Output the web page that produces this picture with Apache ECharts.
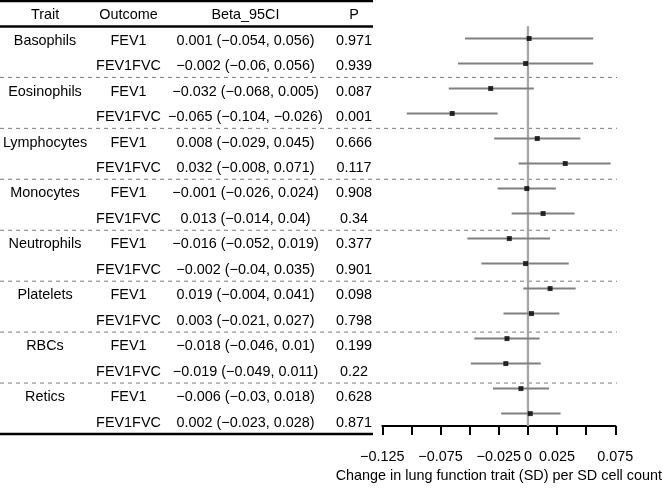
<!DOCTYPE html>
<html><head><meta charset="utf-8">
<script src="https://cdn.jsdelivr.net/npm/echarts@6/dist/echarts.min.js"></script>
<style>html,body{margin:0;padding:0;background:#fff}#c{width:665px;height:488px}</style>
</head><body><div id="c"></div>
<script>
const traits = ['Basophils','Eosinophils','Lymphocytes','Monocytes','Neutrophils','Platelets','RBCs','Retics'];
const outcomes = ['FEV1','FEV1FVC'];
const beta  = [0.001, -0.002, -0.032, -0.065, 0.008, 0.032, -0.001, 0.013, -0.016, -0.002, 0.019, 0.003, -0.018, -0.019, -0.006, 0.002];
const lower = [-0.054, -0.06, -0.068, -0.104, -0.029, -0.008, -0.026, -0.014, -0.052, -0.04, -0.004, -0.021, -0.046, -0.049, -0.03, -0.023];
const upper = [0.056, 0.056, 0.005, -0.026, 0.045, 0.071, 0.024, 0.04, 0.019, 0.035, 0.041, 0.027, 0.01, 0.011, 0.018, 0.028];
const pValues = [0.971, 0.939, 0.087, 0.001, 0.666, 0.117, 0.908, 0.34, 0.377, 0.901, 0.098, 0.798, 0.199, 0.22, 0.628, 0.871];
const headers = ['Trait','Outcome','Beta_95CI','P'];
const tickLabels = ['\u22120.125','','\u22120.075','','\u22120.025','0','0.025','','0.075'];
const xMin = -0.125, xMax = 0.075, xStep = 0.025;
const xTitle = 'Change in lung function trait (SD) per SD cell count';

const FONT = '"Liberation Sans", Arial, Helvetica, sans-serif';
const FS = 14.4;
const fmt = v => String(v).replace('-', '\u2212');
const nRows = beta.length;
const colX = [45, 128.5, 245.5, 354];
const TABLE_W = 373;

const textPos = [], textStr = [];
headers.forEach((h, c) => { textPos.push([colX[c], -0.5]); textStr.push(h); });
for (let i = 0; i < nRows; i++) {
  const g = Math.floor(i / outcomes.length), k = i % outcomes.length;
  if (k === 0) { textPos.push([colX[0], i + 0.5]); textStr.push(traits[g]); }
  textPos.push([colX[1], i + 0.5]); textStr.push(outcomes[k]);
  textPos.push([colX[2], i + 0.5]); textStr.push(`${fmt(beta[i])} (${fmt(lower[i])}, ${fmt(upper[i])})`);
  textPos.push([colX[3], i + 0.5]); textStr.push(String(pValues[i]));
}
const sepData = traits.slice(1).map((t, g) => [(g + 1) * outcomes.length]);
const ruleData = [[-1], [0], [nRows]];
const ciData = beta.map((b, i) => [lower[i], upper[i], i + 0.5]);
const ptData = beta.map((b, i) => [b, i + 0.5]);

const gridTop = 1, gridH = 433;
const hiddenY = idx => ({ type: 'value', gridIndex: idx, min: -1, max: nRows, inverse: true, show: false });

const chart = echarts.init(document.getElementById('c'), null, { renderer: 'canvas' });
chart.setOption({
  animation: false,
  backgroundColor: '#fff',
  grid: [
    { left: 0, top: gridTop, width: TABLE_W, height: gridH },
    { left: 0, top: gridTop, width: 617, height: gridH },
    { left: 382.3, top: gridTop, width: 235.7, height: gridH }
  ],
  xAxis: [
    { type: 'value', gridIndex: 0, min: 0, max: TABLE_W, show: false },
    { type: 'value', gridIndex: 1, min: 0, max: 1, show: false },
    { type: 'value', gridIndex: 2, min: xMin, max: xMax, interval: xStep, position: 'bottom',
      axisLine: { show: true, onZero: false, lineStyle: { color: '#000', width: 2 } },
      axisTick: { show: true, inside: false, length: 9, lineStyle: { color: '#000', width: 2 } },
      splitLine: { show: false },
      axisLabel: { margin: 24, fontSize: FS, color: '#000', fontFamily: FONT,
        formatter: v => tickLabels[Math.round((v - xMin) / xStep)] },
      name: xTitle, nameLocation: 'middle', nameGap: 32,
      nameTextStyle: { fontSize: FS, color: '#000', fontFamily: FONT }
    }
  ],
  yAxis: [hiddenY(0), hiddenY(1), hiddenY(2)],
  series: [
    { type: 'custom', xAxisIndex: 1, yAxisIndex: 1, silent: true, clip: false, data: sepData,
      renderItem: (params, api) => {
        const v = api.value(0);
        const a = api.coord([0, v]), b = api.coord([1, v]);
        return { type: 'line', shape: { x1: a[0], y1: a[1], x2: b[0], y2: b[1] },
          style: { stroke: '#7a7a7a', lineWidth: 1, lineDash: [4, 4] } };
      } },
    { type: 'custom', xAxisIndex: 0, yAxisIndex: 0, silent: true, clip: false, data: ruleData,
      renderItem: (params, api) => {
        const v = api.value(0);
        const a = api.coord([0, v]), b = api.coord([TABLE_W, v]);
        return { type: 'line', shape: { x1: a[0], y1: a[1], x2: b[0], y2: b[1] },
          style: { stroke: '#000', lineWidth: 2.6 } };
      } },
    { type: 'custom', xAxisIndex: 0, yAxisIndex: 0, silent: true, clip: false, data: textPos,
      renderItem: (params, api) => {
        const p = api.coord([api.value(0), api.value(1)]);
        return { type: 'text', x: p[0], y: p[1] + 1.5,
          style: { text: textStr[params.dataIndex], fontSize: FS, fontFamily: FONT, fill: '#000',
            align: 'center', verticalAlign: 'middle' } };
      } },
    { type: 'custom', xAxisIndex: 2, yAxisIndex: 2, silent: true, clip: false, data: [[0]],
      renderItem: (params, api) => {
        const a = api.coord([api.value(0), 0]), b = api.coord([api.value(0), nRows]);
        return { type: 'line', shape: { x1: a[0], y1: a[1], x2: b[0], y2: b[1] },
          style: { stroke: '#a6a6a6', lineWidth: 2.3 } };
      } },
    { type: 'custom', xAxisIndex: 2, yAxisIndex: 2, silent: true, clip: false, data: ciData,
      renderItem: (params, api) => {
        const a = api.coord([api.value(0), api.value(2)]), b = api.coord([api.value(1), api.value(2)]);
        return { type: 'line', shape: { x1: a[0], y1: a[1], x2: b[0], y2: b[1] },
          style: { stroke: '#808080', lineWidth: 2 } };
      } },
    { type: 'scatter', xAxisIndex: 2, yAxisIndex: 2, silent: true, data: ptData,
      symbol: 'rect', symbolSize: 5, itemStyle: { color: '#000' }, z: 5 }
  ]
});
</script></body></html>
